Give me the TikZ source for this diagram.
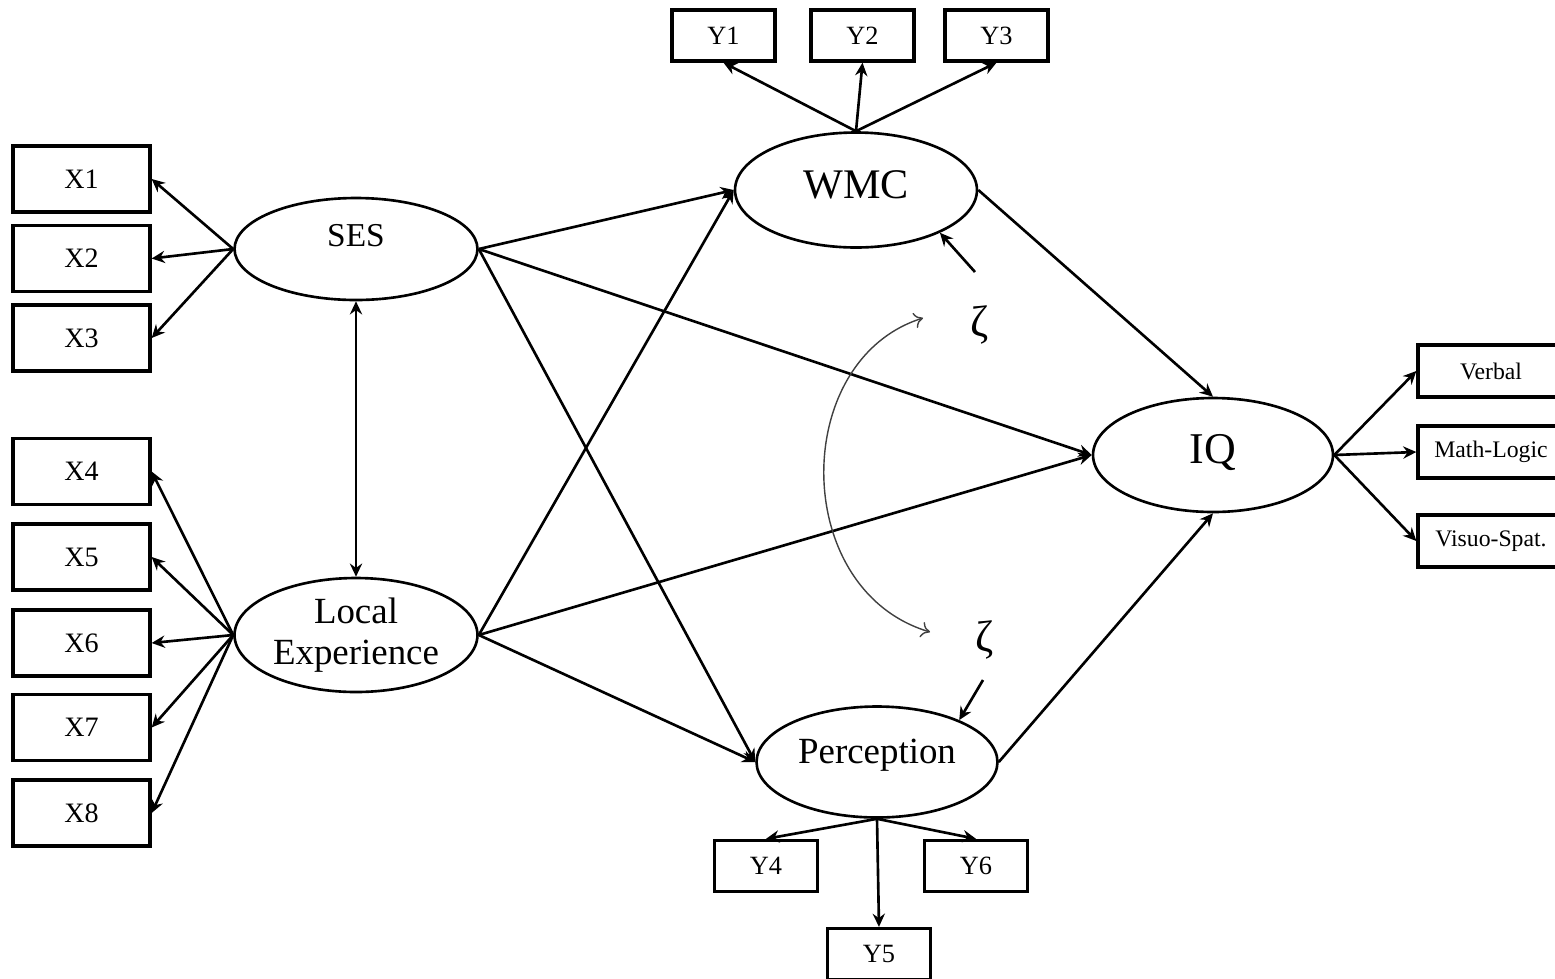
\documentclass[tikz,border=0pt]{standalone}
\usepackage{fontspec}
\setmainfont{Liberation Serif}
\usetikzlibrary{shapes.geometric,arrows.meta}
\begin{document}
\begin{tikzpicture}[x=0.02cm,y=-0.02cm,
  obs/.style={draw,line width=1.9pt,rectangle,inner sep=0pt},
  xbox/.style={obs,minimum width=2.74cm,minimum height=1.32cm,font=\fontsize{16}{19}\selectfont},
  ybox/.style={obs,minimum width=2.06cm,minimum height=1.02cm,font=\fontsize{15}{18}\selectfont},
  rbox/.style={obs,minimum width=2.92cm,minimum height=1.04cm,font=\fontsize{13.5}{16}\selectfont},
  lat/.style={draw,ellipse,line width=1.5pt,inner sep=0pt},
  tip/.tip={Stealth[length=7.5pt,width=7pt,inset=2.5pt]},
  arr/.style={-tip,line width=1.5pt},
  darr/.style={tip-tip,line width=1.5pt},
  corr/.style={{To[length=5pt,width=9pt]}-{To[length=5pt,width=9pt]},line width=0.8pt,black!75},
  zeta/.style={font=\fontsize{25}{28}\selectfont}]
\useasboundingbox (0,0) rectangle (1555,978);
\clip (0,0) rectangle (1555,978);

% observed indicators
\node[xbox] (x1) at (81.5,179) {X1};
\node[xbox] (x2) at (81.5,258.5) {X2};
\node[xbox] (x3) at (81.5,338) {X3};
\node[xbox] (x4) at (81.5,471.5) {X4};
\node[xbox] (x5) at (81.5,557) {X5};
\node[xbox] (x6) at (81.5,643) {X6};
\node[xbox] (x7) at (81.5,727.5) {X7};
\node[xbox] (x8) at (81.5,813) {X8};

\node[ybox] (y1) at (723.5,35.5) {Y1};
\node[ybox] (y2) at (862.5,35.5) {Y2};
\node[ybox] (y3) at (996.5,35.5) {Y3};
\node[ybox] (y4) at (766,866) {Y4};
\node[ybox] (y6) at (976,866) {Y6};
\node[ybox] (y5) at (879,954) {Y5};

\node[rbox] (verbal) at (1491,371) {Verbal};
\node[rbox] (math) at (1491,452) {Math-Logic};
\node[rbox] (visuo) at (1491,541) {Visuo-Spat.};

% latent variables
\node[lat,minimum width=4.86cm,minimum height=2.04cm,font=\fontsize{19}{22}\selectfont,text height=12.6pt,text depth=15.4pt] (ses) at (356,249) {SES};
\node[lat,minimum width=4.86cm,minimum height=2.28cm,font=\fontsize{21}{23.5}\selectfont,align=center] (loc) at (356,635) {Local\\Experience};
\node[lat,minimum width=4.84cm,minimum height=2.30cm,font=\fontsize{24}{28}\selectfont,text height=15.9pt,text depth=6.5pt] (wmc) at (856,190) {WMC};
\node[lat,minimum width=4.80cm,minimum height=2.28cm,font=\fontsize{25}{29}\selectfont,text height=16.5pt,text depth=6.5pt] (iq) at (1213,455) {IQ};
\node[lat,minimum width=4.82cm,minimum height=2.22cm,font=\fontsize{21}{24}\selectfont,text height=13.9pt,text depth=12pt] (per) at (877,762) {Perception};

% disturbances
\node[zeta] (z1) at (980,325) {ζ};
\node[zeta] (z2) at (985,640) {ζ};
\coordinate (z1s) at (975,272);
\coordinate (z2s) at (983,680);
\coordinate (ca) at (923,318);
\coordinate (cb) at (930,632);

% measurement arrows
\foreach \b in {x1,x2,x3} \draw[arr] (ses.west) -- (\b.east);
\foreach \b in {x4,x5,x6,x7,x8} \draw[arr] (loc.west) -- (\b.east);
\foreach \b in {y1,y2,y3} \draw[arr] (wmc.north) -- (\b.south);
\foreach \b in {y4,y5,y6} \draw[arr] (per.south) -- (\b.north);
\foreach \b in {verbal,math,visuo} \draw[arr] (iq.east) -- (\b.west);

% structural paths
\draw[darr] (ses.south) -- (loc.north);
\draw[arr] (ses.east) -- (wmc.west);
\draw[arr] (ses.east) -- (iq.west);
\draw[arr] (ses.east) -- (per.west);
\draw[arr] (loc.east) -- (wmc.west);
\draw[arr] (loc.east) -- (iq.west);
\draw[arr] (loc.east) -- (per.west);
\draw[arr] (wmc.east) -- (iq.north);
\draw[arr] (per.east) -- (iq.south);

% disturbance arrows and covariance
\draw[arr] (z1s) -- (wmc.-27);
\draw[arr] (z2s) -- (per.27);
\draw[corr] (ca) .. controls (790,360) and (790,590) .. (cb);
\end{tikzpicture}
\end{document}
